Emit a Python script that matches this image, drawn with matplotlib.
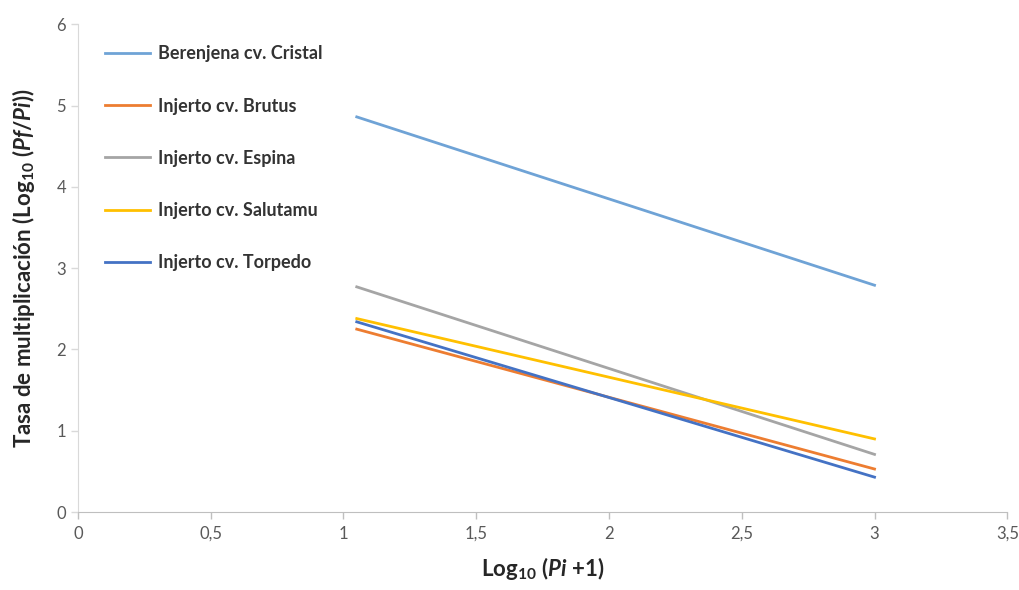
import matplotlib
matplotlib.use('Agg')
import matplotlib.pyplot as plt

# regression lines, start and end of log10(Pi+1)
x_vals = [1.05, 3.0]
series = ['Berenjena cv. Cristal', 'Injerto cv. Brutus', 'Injerto cv. Espina',
          'Injerto cv. Salutamu', 'Injerto cv. Torpedo']
cristal = [4.86, 2.79]
brutus = [2.25, 0.53]
espina = [2.77, 0.71]
salutamu = [2.38, 0.90]
torpedo = [2.34, 0.43]
colors = ['#6fa3d6', '#ed7d31', '#a5a5a5', '#ffc000', '#4472c4']

plt.rcParams['font.family'] = ['Lato', 'DejaVu Sans']
plt.rcParams['mathtext.fontset'] = 'custom'
plt.rcParams['mathtext.rm'] = 'Lato:bold'
plt.rcParams['mathtext.it'] = 'Lato:bold:italic'
plt.rcParams['mathtext.bf'] = 'Lato:bold'

fig = plt.figure(figsize=(10.19, 5.9), dpi=100)
ax = fig.add_axes([0.0765, 0.132, 0.912, 0.827])

for name, vals, c in zip(series, [cristal, brutus, espina, salutamu, torpedo], colors):
    ax.plot(x_vals, vals, color=c, lw=2, label=name)

ax.set_xlim(0, 3.5)
ax.set_ylim(0, 6)
ax.set_xticks([0, 0.5, 1, 1.5, 2, 2.5, 3, 3.5])
ax.set_xticklabels(['0', '0,5', '1', '1,5', '2', '2,5', '3', '3,5'])
ax.set_yticks(range(7))
ax.tick_params(colors='#595959', labelsize=12, length=5, width=1, direction='out')
ax.tick_params(axis='x', pad=5)
for s in ['top', 'right']:
    ax.spines[s].set_visible(False)
ax.spines['left'].set_color('#d9d9d9')
ax.spines['bottom'].set_color('#bfbfbf')
ax.tick_params(axis='y', color='#d9d9d9')
ax.tick_params(axis='x', color='#bfbfbf')

ax.set_xlabel(r'Log$_{10}$ ($Pi$ +1)', fontsize=16, fontweight='bold', color='#262626', labelpad=9)
ax.set_ylabel(r'Tasa de multiplicación (Log$_{10}$ ($Pf/Pi$))', fontsize=16,
              fontweight='bold', color='#262626', labelpad=14)

leg = ax.legend(loc='upper left', bbox_to_anchor=(0.012, 0.99), frameon=False,
                fontsize=13, labelspacing=1.95, handlelength=2.5, handletextpad=0.4)
for t in leg.get_texts():
    t.set_fontweight('bold')
    t.set_color('#333333')

fig.savefig('out.png', dpi=100)
